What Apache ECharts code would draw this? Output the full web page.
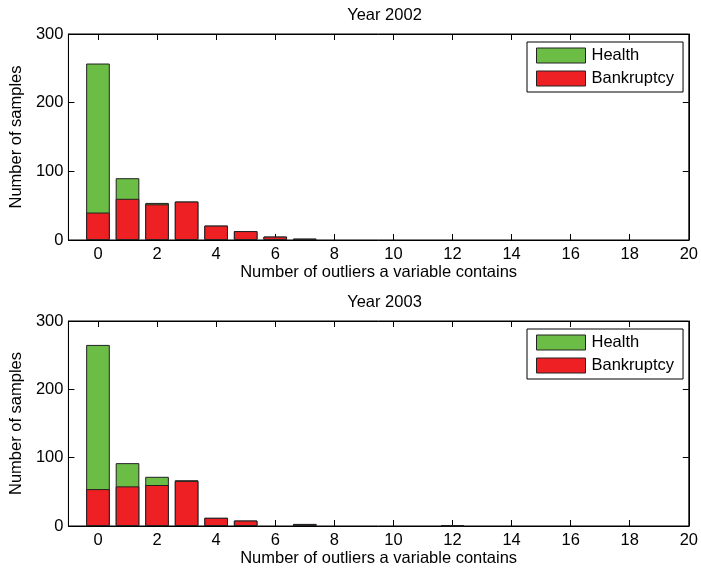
<!DOCTYPE html>
<html>
<head>
<meta charset="utf-8">
<script src="https://cdn.jsdelivr.net/npm/echarts@6/dist/echarts.min.js"></script>
<style>
  html, body { margin: 0; padding: 0; background: #fff; }
  #chart { width: 701px; height: 572px; }
</style>
</head>
<body>
<div id="chart"></div>
<script>
// Number of outliers a variable contains (bar positions)
const outlierCounts = [0,1,2,3,4,5,6,7,8,9,10,11,12,13,14,15,16,17,18,19,20];

// Year 2002: samples per outlier count (bankruptcy at the bottom, health above it)
const bankruptcy2002 = [40,60,52,56,21,13,5,2,0,0,0,0,0,0,0,0,0,0,0,0,0];
const health2002     = [217,30,2,0,0,0,0,0,0,0,0,0,0,0,0,0,0,0,0,0,0];

// Year 2003
const bankruptcy2003 = [54,58,60,66,12,8,0,3,0,0,0,0,1,0,0,0,0,0,0,0,0];
const health2003     = [211,34,12,1,0,0,0,0,0,0,0,0,0,0,0,0,0,0,0,0,0];

const xTicks = [0,2,4,6,8,10,12,14,16,18,20];
const yTicks = [0,100,200,300];
const panelTitles = ['Year 2002', 'Year 2003'];
const seriesNames = ['Health', 'Bankruptcy'];
const xAxisName = 'Number of outliers a variable contains';
const yAxisName = 'Number of samples';

const FONT = '"Liberation Sans", Arial, Helvetica, sans-serif';
const FS = 16.5;
const GREEN = '#6bbd45';
const RED = '#ee2024';
const EDGE = '#222';

const grids = [
  { left: 67, right: 9, top: 34, height: 206 },
  { left: 67, right: 9, top: 321, height: 205 }
];

const xAxes = [], yAxes = [], series = [], titles = [], legends = [];

const tickStyle = { show: true, inside: true, length: 6, lineStyle: { color: '#000', width: 1 } };

// empty bins are left out so no zero-height outline spills past the box
const point = (x, v) => [x, v === 0 ? null : v];

grids.forEach((g, i) => {
  // bottom x axis with labels and inward ticks
  xAxes.push({
    type: 'value', gridIndex: i, position: 'bottom', min: -1, max: 20,
    axisLine: { show: true, onZero: false, lineStyle: { color: '#000', width: 1 } },
    axisTick: Object.assign({ customValues: xTicks }, tickStyle),
    axisLabel: { show: true, customValues: xTicks, color: '#000', fontSize: FS, fontFamily: FONT, margin: 6 },
    splitLine: { show: false },
    name: xAxisName, nameLocation: 'middle', nameGap: 19,
    nameTextStyle: { color: '#000', fontSize: FS, fontFamily: FONT }
  });
  // top x axis: mirrored ticks on the box edge
  xAxes.push({
    type: 'value', gridIndex: i, position: 'top', min: -1, max: 20,
    axisLine: { show: true, onZero: false, lineStyle: { color: '#000', width: 1 } },
    axisTick: Object.assign({ customValues: xTicks }, tickStyle),
    axisLabel: { show: false },
    splitLine: { show: false }
  });
  yAxes.push({
    type: 'value', gridIndex: i, position: 'left', min: 0, max: 300, interval: 100,
    axisLine: { show: true, onZero: false, lineStyle: { color: '#000', width: 1 } },
    axisTick: Object.assign({ customValues: yTicks }, tickStyle),
    axisLabel: { show: true, customValues: yTicks, color: '#000', fontSize: FS, fontFamily: FONT, margin: 5 },
    splitLine: { show: false },
    name: yAxisName, nameLocation: 'middle', nameGap: 40, nameRotate: 90,
    nameTextStyle: { color: '#000', fontSize: FS, fontFamily: FONT }
  });
  yAxes.push({
    type: 'value', gridIndex: i, position: 'right', min: 0, max: 300, interval: 100,
    axisLine: { show: true, onZero: false, lineStyle: { color: '#000', width: 1 } },
    axisTick: Object.assign({ customValues: yTicks }, tickStyle),
    axisLabel: { show: false },
    splitLine: { show: false }
  });

  const bank = i === 0 ? bankruptcy2002 : bankruptcy2003;
  const health = i === 0 ? health2002 : health2003;
  // health column reaches the combined total; bankruptcy drawn over its lower part
  const total = bank.map((b, k) => b + health[k]);

  series.push({
    name: seriesNames[0], type: 'bar', xAxisIndex: i * 2, yAxisIndex: i * 2,
    barWidth: '80%', barGap: '-100%', z: 2,
    itemStyle: { color: GREEN, borderColor: EDGE, borderWidth: 1 },
    data: outlierCounts.map((x, k) => point(x, total[k]))
  });
  series.push({
    name: seriesNames[1], type: 'bar', xAxisIndex: i * 2, yAxisIndex: i * 2,
    barWidth: '80%', barGap: '-100%', z: 3,
    itemStyle: { color: RED, borderColor: EDGE, borderWidth: 1 },
    data: outlierCounts.map((x, k) => point(x, bank[k]))
  });

  titles.push({
    text: panelTitles[i], left: 379.5, textAlign: 'center', top: g.top - 32,
    textStyle: { color: '#000', fontSize: FS, fontWeight: 'normal', fontFamily: FONT }
  });

  legends.push({
    data: [seriesNames[0], seriesNames[1]],
    orient: 'vertical', left: 527, top: g.top + 8,
    itemWidth: 49, itemHeight: 15, itemGap: 6,
    padding: [5, 9, 5, 9],
    borderColor: '#000', borderWidth: 1, borderRadius: 0,
    backgroundColor: '#fff',
    selectedMode: false,
    icon: 'rect',
    itemStyle: { borderColor: EDGE, borderWidth: 1 },
    textStyle: { color: '#000', fontSize: FS, fontFamily: FONT, padding: [0, 0, 0, 1] }
  });
});

const chart = echarts.init(document.getElementById('chart'), null, { renderer: 'canvas' });
chart.setOption({
  animation: false,
  backgroundColor: '#fff',
  title: titles,
  legend: legends,
  grid: grids.map(g => Object.assign({ containLabel: false, show: true, borderColor: '#000', borderWidth: 1, backgroundColor: 'transparent' }, g)),
  xAxis: xAxes,
  yAxis: yAxes,
  series: series
});
</script>
</body>
</html>
